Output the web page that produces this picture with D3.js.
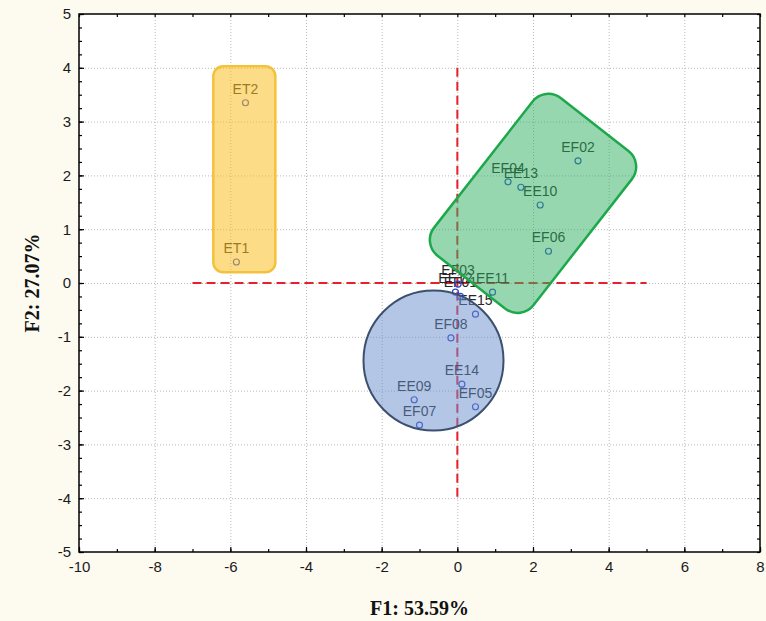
<!DOCTYPE html>
<html>
<head>
<meta charset="utf-8">
<script src="https://cdn.jsdelivr.net/npm/d3@7/dist/d3.min.js"></script>
<style>
  html, body { margin: 0; padding: 0; background: #fdfaf0; }
  svg { display: block; }
</style>
</head>
<body>
<svg id="chart" width="766" height="621"></svg>
<script>
// Sample scores on the first two factorial axes
const sampleLabels = ["ET1", "ET2", "EF02", "EF04", "EE13", "EE10", "EF06",
  "EF03", "EE12", "EF01", "EE11", "EE15", "EF08", "EE14", "EF05", "EE09", "EF07"];
const f1Scores = [-5.84, -5.60, 3.19, 1.34, 1.68, 2.19, 2.41,
  0.02, -0.05, 0.08, 0.93, 0.48, -0.17, 0.12, 0.48, -1.14, -1.00];
const f2Scores = [0.39, 3.35, 2.27, 1.88, 1.78, 1.45, 0.59,
  -0.02, -0.17, -0.25, -0.17, -0.58, -1.02, -1.88, -2.30, -2.17, -2.64];

// Axis ticks
const xMajorTicks = [-10, -8, -6, -4, -2, 0, 2, 4, 6, 8];
const yMajorTicks = [-5, -4, -3, -2, -1, 0, 1, 2, 3, 4, 5];
const xTitle = "F1: 53.59%";
const yTitle = "F2: 27.07%";

// Reference cross through the origin (data units)
const crossH = [-7, 5];
const crossV = [-4, 4];

const svg = d3.select("#chart");
const pLeft = 79, pRight = 760, pTop = 14, pBottom = 552;

const x = d3.scaleLinear().domain([-10, 8]).range([pLeft, pRight]);
const y = d3.scaleLinear().domain([-5, 5]).range([pBottom, pTop]);

// plot area
svg.append("rect")
  .attr("x", pLeft).attr("y", pTop)
  .attr("width", pRight - pLeft).attr("height", pBottom - pTop)
  .attr("fill", "#ffffff");

// dotted grid
const grid = svg.append("g").attr("stroke", "#b8b8b8").attr("stroke-width", 1)
  .attr("stroke-dasharray", "1,2");
grid.selectAll("line.v").data(xMajorTicks.slice(1, -1)).join("line")
  .attr("class", "v")
  .attr("x1", d => x(d) + 0.5).attr("x2", d => x(d) + 0.5)
  .attr("y1", pTop).attr("y2", pBottom);
grid.selectAll("line.h").data(yMajorTicks.slice(1, -1)).join("line")
  .attr("class", "h")
  .attr("x1", pLeft).attr("x2", pRight)
  .attr("y1", d => y(d) + 0.5).attr("y2", d => y(d) + 0.5);

// red dashed reference lines
const cross = svg.append("g").attr("stroke", "#e8202c").attr("stroke-width", 2)
  .attr("stroke-dasharray", "9,5");
cross.append("line")
  .attr("x1", x(crossH[0])).attr("x2", x(crossH[1]))
  .attr("y1", y(0)).attr("y2", y(0));
cross.append("line")
  .attr("x1", x(0)).attr("x2", x(0))
  .attr("y1", y(crossV[1])).attr("y2", y(crossV[0]));

// sample points and their names
const pts = sampleLabels.map((s, i) => ({ name: s, f1: f1Scores[i], f2: f2Scores[i] }));
const ptG = svg.append("g");
ptG.selectAll("text").data(pts).join("text")
  .attr("x", d => x(d.f1))
  .attr("y", d => y(d.f2) - 9)
  .attr("text-anchor", "middle")
  .attr("font-family", "Liberation Sans, Arial, sans-serif")
  .attr("font-size", 14)
  .attr("fill", "#262626")
  .text(d => d.name);
ptG.selectAll("circle").data(pts).join("circle")
  .attr("cx", d => x(d.f1))
  .attr("cy", d => y(d.f2))
  .attr("r", 3)
  .attr("fill", "none")
  .attr("stroke", "#2f46c8")
  .attr("stroke-width", 1.2);

// group enclosures drawn translucently over the points
const groups = svg.append("g");

// ET group: rounded box spanning the given F1/F2 extents
const etBox = { f1: [-6.45, -4.81], f2: [0.20, 4.03] };
groups.append("rect")
  .attr("x", x(etBox.f1[0])).attr("y", y(etBox.f2[1]))
  .attr("width", x(etBox.f1[1]) - x(etBox.f1[0]))
  .attr("height", y(etBox.f2[0]) - y(etBox.f2[1]))
  .attr("rx", 10).attr("ry", 10)
  .attr("fill", "#fbbf24").attr("fill-opacity", 0.55)
  .attr("stroke", "#f3c23a").attr("stroke-width", 2.5);

// upper-right group: tilted rounded box around its centre
const greenCentre = { f1: 2.0, f2: 1.48 };
const greenW = 200, greenH = 126, greenAngle = -52;
groups.append("g")
  .attr("transform", `translate(${x(greenCentre.f1)},${y(greenCentre.f2)}) rotate(${greenAngle})`)
  .append("rect")
  .attr("x", -greenW / 2).attr("y", -greenH / 2)
  .attr("width", greenW).attr("height", greenH)
  .attr("rx", 20).attr("ry", 20)
  .attr("fill", "#2fb062").attr("fill-opacity", 0.5)
  .attr("stroke", "#1ea84c").attr("stroke-width", 2.5);

// lower group: circle
const blueCentre = { f1: -0.63, f2: -1.44 };
groups.append("circle")
  .attr("cx", x(blueCentre.f1)).attr("cy", y(blueCentre.f2))
  .attr("r", 70)
  .attr("fill", "#6a8dcc").attr("fill-opacity", 0.5)
  .attr("stroke", "#3b4f6e").attr("stroke-width", 2);

// ticks pointing inward on all four sides
function styleAxis(g) {
  g.select(".domain").remove();
  g.selectAll(".tick line").attr("stroke", "#000").attr("stroke-width", 1.2);
  g.selectAll(".tick text")
    .attr("font-family", "Liberation Sans, Arial, sans-serif")
    .attr("font-size", 15)
    .attr("fill", "#1a1a1a");
}
const xMinor = d3.range(-10, 8.001, 1);
const yMinor = d3.range(-5, 5.001, 0.25);
const plainNum = d => String(d);

svg.append("g").attr("transform", `translate(0,${pBottom})`)
  .call(d3.axisBottom(x).tickValues(xMinor).tickSize(-3).tickFormat(""))
  .call(styleAxis);
svg.append("g").attr("transform", `translate(0,${pBottom})`)
  .call(d3.axisBottom(x).tickValues(xMajorTicks).tickSize(-5).tickPadding(9)
    .tickFormat(plainNum))
  .call(styleAxis);
svg.append("g").attr("transform", `translate(0,${pTop})`)
  .call(d3.axisTop(x).tickValues(xMinor).tickSize(-3).tickFormat(""))
  .call(styleAxis);
svg.append("g").attr("transform", `translate(${pLeft},0)`)
  .call(d3.axisLeft(y).tickValues(yMinor).tickSize(-3).tickFormat(""))
  .call(styleAxis);
svg.append("g").attr("transform", `translate(${pLeft},0)`)
  .call(d3.axisLeft(y).tickValues(yMajorTicks).tickSize(-5).tickPadding(8)
    .tickFormat(plainNum))
  .call(styleAxis);
svg.append("g").attr("transform", `translate(${pRight},0)`)
  .call(d3.axisRight(y).tickValues(yMinor).tickSize(-3).tickFormat(""))
  .call(styleAxis);

// frame
svg.append("rect")
  .attr("x", pLeft).attr("y", pTop)
  .attr("width", pRight - pLeft).attr("height", pBottom - pTop)
  .attr("fill", "none").attr("stroke", "#000").attr("stroke-width", 1.5);

// axis titles
svg.append("text")
  .attr("x", (pLeft + pRight) / 2).attr("y", 615)
  .attr("text-anchor", "middle")
  .attr("font-family", "Liberation Serif, Times New Roman, serif")
  .attr("font-weight", "bold").attr("font-size", 20)
  .attr("fill", "#111")
  .text(xTitle);
svg.append("text")
  .attr("transform", `translate(39,${(pTop + pBottom) / 2}) rotate(-90)`)
  .attr("text-anchor", "middle")
  .attr("font-family", "Liberation Serif, Times New Roman, serif")
  .attr("font-weight", "bold").attr("font-size", 20)
  .attr("fill", "#111")
  .text(yTitle);
</script>
</body>
</html>
